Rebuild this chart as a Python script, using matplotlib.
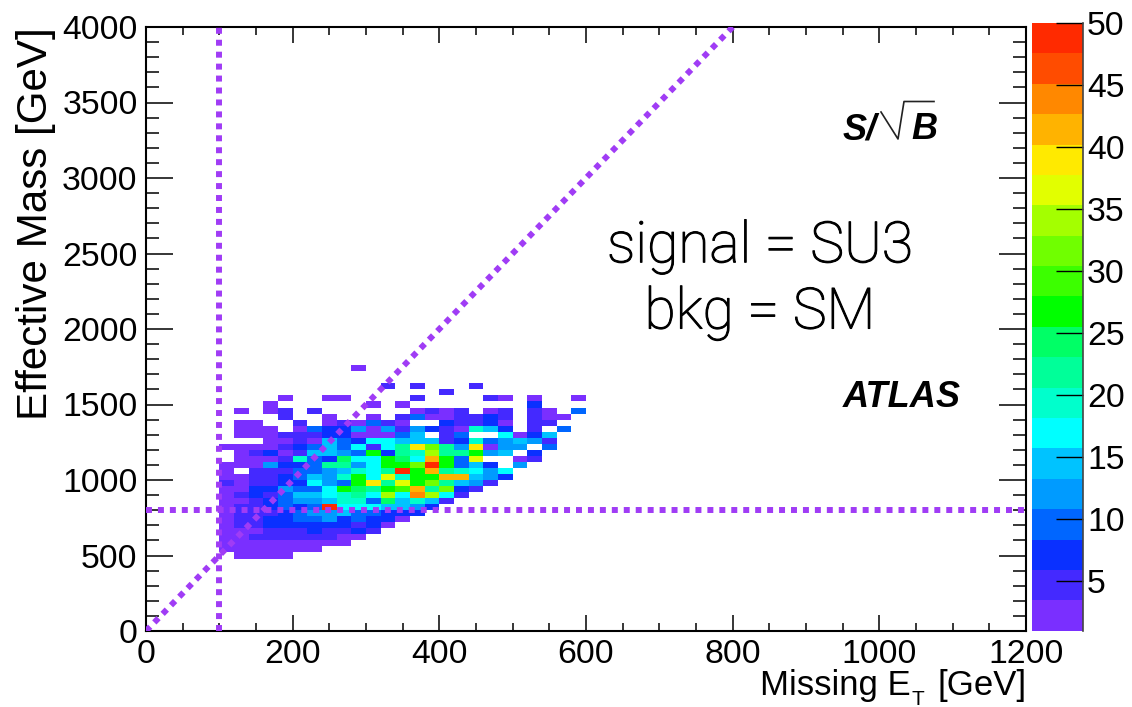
#!/usr/bin/env python
# -*- coding: utf-8 -*-
"""S/sqrt(B) map in the Missing ET vs Effective Mass plane (SU3 signal, SM background)."""

import numpy as np
import matplotlib
matplotlib.use("Agg")
import matplotlib.pyplot as plt
import matplotlib.patheffects as pe
from matplotlib.colors import BoundaryNorm, ListedColormap
from matplotlib.lines import Line2D
from matplotlib.ticker import MultipleLocator

plt.rcParams["font.family"] = ["Liberation Sans", "DejaVu Sans"]

W, H = 1132, 707

# bins: 20 GeV in MET from 100, 40 GeV in Meff from 480
met_edges_start, met_bin, meff_edges_start, meff_bin = 100, 20, 480, 40

# S/sqrt(B) per bin, top row first (Meff 1720-1760 down to 480-520), 0 = empty
sig_1720 = [0,0,0,0,0,0,0,0,0,2,0,0,0,0,0,0,0,0,0,0,0,0,0,0,0]
sig_1680 = [0]*25
sig_1640 = [0]*25
sig_1600 = [0,0,0,0,0,0,0,0,0,0,0,5,0,5,0,0,0,5,0,0,0,0,0,0,0]
sig_1560 = [0,0,0,0,0,0,0,0,0,0,0,0,0,0,0,5,0,0,0,0,0,0,0,0,0]
sig_1520 = [0,0,0,0,2,0,0,2,2,0,0,0,0,5,0,0,0,0,5,2,0,2,0,0,2]
sig_1480 = [0,0,0,2,0,0,0,0,0,0,2,0,2,0,0,0,0,0,0,0,0,7,0,0,0]
sig_1440 = [0,2,0,2,5,0,5,0,0,0,0,0,0,2,5,2,5,0,2,5,0,5,2,0,10]
sig_1400 = [0,0,0,0,5,0,0,2,0,0,2,0,5,10,2,2,5,5,7,5,0,5,2,2,0]
sig_1360 = [0,2,2,0,0,5,0,2,5,2,10,5,2,0,0,7,5,5,7,2,0,5,5,0,0]
sig_1320 = [0,2,2,2,0,2,10,7,7,12,2,12,5,12,7,5,2,19,14,7,0,5,0,10,0]
sig_1280 = [0,2,2,2,5,5,5,7,7,2,2,2,10,14,0,5,10,0,0,17,2,7,14,0,0]
sig_1240 = [0,0,0,2,2,5,2,14,10,7,17,17,14,14,14,5,7,19,10,12,14,12,5,0,0]
sig_1200 = [2,2,2,2,5,7,10,14,10,17,5,17,22,39,32,22,12,39,2,12,12,0,10,0,0]
sig_1160 = [0,2,5,7,2,5,14,14,12,10,27,7,22,19,34,22,22,27,12,14,0,7,0,0,0]
sig_1120 = [0,2,2,2,5,19,10,7,24,17,17,27,24,17,41,27,10,37,0,0,2,5,0,0,0]
sig_1080 = [2,2,2,12,7,7,10,22,22,12,17,27,27,32,49,27,10,14,7,0,12,0,0,0,0]
sig_1040 = [2,0,5,5,5,10,10,12,14,19,17,22,49,27,41,22,19,17,12,17,0,0,0,0,0]
sig_1000 = [2,2,5,5,7,10,14,12,19,27,17,37,19,27,27,41,41,14,12,7,0,0,0,0,0]
sig_960 = [5,2,5,5,7,7,17,12,10,27,39,22,37,27,32,22,14,12,5,0,0,0,0,0,0]
sig_920 = [2,2,7,7,12,10,10,17,27,24,22,27,29,41,22,32,7,5,0,0,0,0,0,0,0]
sig_880 = [2,5,7,5,10,14,14,17,19,22,17,34,17,44,34,17,5,0,0,0,0,0,0,0,0]
sig_840 = [2,2,5,7,10,12,12,14,19,19,10,24,14,19,14,5,0,0,0,0,0,0,0,0,0]
sig_800 = [2,5,5,7,10,7,10,49,17,17,17,14,14,12,7,0,0,0,0,0,0,0,0,0,0]
sig_760 = [2,5,5,5,7,10,12,12,14,10,10,7,7,7,0,0,0,0,0,0,0,0,0,0,0]
sig_720 = [2,5,5,7,7,10,10,12,7,10,7,7,2,0,0,0,0,0,0,0,0,0,0,0,0]
sig_680 = [2,5,5,7,7,7,7,7,7,5,7,2,0,0,0,0,0,0,0,0,0,0,0,0,0]
sig_640 = [2,2,2,5,5,5,7,5,5,7,5,0,0,0,0,0,0,0,0,0,0,0,0,0,0]
sig_600 = [2,2,5,5,5,5,5,5,2,2,0,0,0,0,0,0,0,0,0,0,0,0,0,0,0]
sig_560 = [2,2,2,2,2,2,2,2,2,0,0,0,0,0,0,0,0,0,0,0,0,0,0,0,0]
sig_520 = [2,2,2,2,2,2,2,0,0,0,0,0,0,0,0,0,0,0,0,0,0,0,0,0,0]
sig_480 = [0,2,2,2,2,0,0,0,0,0,0,0,0,0,0,0,0,0,0,0,0,0,0,0,0]

band_colors = ["#7a2fff", "#4429ff", "#0a30ff", "#0066ff", "#009bff",
               "#00c3ff", "#00ffff", "#00ffcc", "#00ff99", "#00ff66",
               "#00ff00", "#3cff00", "#70ff00", "#a4ff00", "#e2ff00",
               "#ffea00", "#ffb300", "#ff8800", "#ff4c00", "#ff2a00"]
z_min, z_max = 1, 50
z_ticks = [5, 10, 15, 20, 25, 30, 35, 40, 45, 50]

line_color = "#a03cf5"
cut_met = 100
cut_meff = 800
diag_met = [0, 800]
diag_meff = [0, 4000]

rows_top_down = [sig_1720, sig_1680, sig_1640, sig_1600, sig_1560, sig_1520, sig_1480,
                 sig_1440, sig_1400, sig_1360, sig_1320, sig_1280, sig_1240, sig_1200,
                 sig_1160, sig_1120, sig_1080, sig_1040, sig_1000, sig_960, sig_920,
                 sig_880, sig_840, sig_800, sig_760, sig_720, sig_680, sig_640,
                 sig_600, sig_560, sig_520, sig_480]
grid = np.array(rows_top_down[::-1], dtype=float)
grid = np.ma.masked_where(grid <= 0, grid)
met_edges = met_edges_start + met_bin * np.arange(grid.shape[1] + 1)
meff_edges = meff_edges_start + meff_bin * np.arange(grid.shape[0] + 1)


def fx(px):
    return px / W


def fy(py):
    return 1.0 - py / H


fig = plt.figure(figsize=(W / 100, H / 100), dpi=100)
ax = fig.add_axes([fx(146), fy(631), fx(1026) - fx(146), fy(27) - fy(631)])
cax = fig.add_axes([fx(1032), fy(630.7), fx(1083) - fx(1032), fy(23) - fy(630.7)])

levels = np.linspace(z_min, z_max, len(band_colors) + 1)
cmap = ListedColormap(band_colors)
norm = BoundaryNorm(levels, cmap.N)
mesh = ax.pcolormesh(met_edges, meff_edges, grid, cmap=cmap, norm=norm, zorder=1)

# cut lines
dots = (0, (1, 1))
ax.plot(diag_met, diag_meff, color=line_color, lw=4.3, ls=dots, zorder=3)
ax.axvline(cut_met, color=line_color, lw=4.3, ls=dots, zorder=3)
ax.axhline(cut_meff, color=line_color, lw=4.3, ls=dots, zorder=3)

ax.set_xlim(0, 1200)
ax.set_ylim(0, 4000)
ax.xaxis.set_major_locator(MultipleLocator(200))
ax.xaxis.set_minor_locator(MultipleLocator(50))
ax.yaxis.set_major_locator(MultipleLocator(500))
ax.yaxis.set_minor_locator(MultipleLocator(100))
ax.tick_params(axis="x", which="major", direction="in", top=True, length=11.5, width=1.1,
               labelsize=24.3, pad=6)
ax.tick_params(axis="x", which="minor", direction="in", top=True, length=5.8, width=1.1)
ax.tick_params(axis="y", which="major", direction="in", right=True, length=19.5, width=1.1,
               labelsize=24.3, pad=6)
ax.tick_params(axis="y", which="minor", direction="in", right=True, length=9.5, width=1.1)
for s in ax.spines.values():
    s.set_linewidth(1.5)

cb = fig.colorbar(mesh, cax=cax, ticks=z_ticks, spacing="proportional")
cb.outline.set_visible(False)
cax.tick_params(axis="y", which="major", direction="in", length=19.5, width=1.0,
                labelsize=24.3, pad=3)
cax.tick_params(axis="y", which="minor", length=0)
cax.add_artist(Line2D([1, 1], [0, 1], transform=cax.transAxes, color="#444444", lw=1.2, clip_on=False))

# axis titles sit outside the frame at fixed spots
fig.text(fx(36), fy(27), "Effective Mass [GeV]", rotation=90, ha="center", va="top", fontsize=30.3)
fig.text(fx(760), fy(695), "Missing E", ha="left", va="baseline", fontsize=25)
fig.text(fx(912), fy(705), "T", ha="left", va="baseline", fontsize=15)
fig.text(fx(938), fy(695), "[GeV]", ha="left", va="baseline", fontsize=25)

# annotations, the big ones in a light face thickened a bit
thicker = [pe.withStroke(linewidth=0.8, foreground="black")]
fig.text(fx(760), fy(247), "signal = SU3", ha="center", va="center", fontsize=41,
         family="Roboto", fontweight="light", path_effects=thicker)
fig.text(fx(760), fy(313), "bkg = SM", ha="center", va="center", fontsize=41,
         family="Roboto", fontweight="light", path_effects=thicker)
fig.text(fx(843), fy(407), "ATLAS", ha="left", va="baseline", fontsize=26, fontweight="bold", fontstyle="italic")
fig.text(fx(843), fy(139), "S/", ha="left", va="baseline", fontsize=26, fontweight="bold", fontstyle="italic")
fig.text(fx(911), fy(139), "B", ha="left", va="baseline", fontsize=26, fontweight="bold", fontstyle="italic")
fig.add_artist(Line2D([fx(881), fx(898), fx(904), fx(934)], [fy(112), fy(139), fy(101.5), fy(101.5)],
                      transform=fig.transFigure, color="#222222", lw=1.2))

fig.savefig("out.png", dpi=100)
